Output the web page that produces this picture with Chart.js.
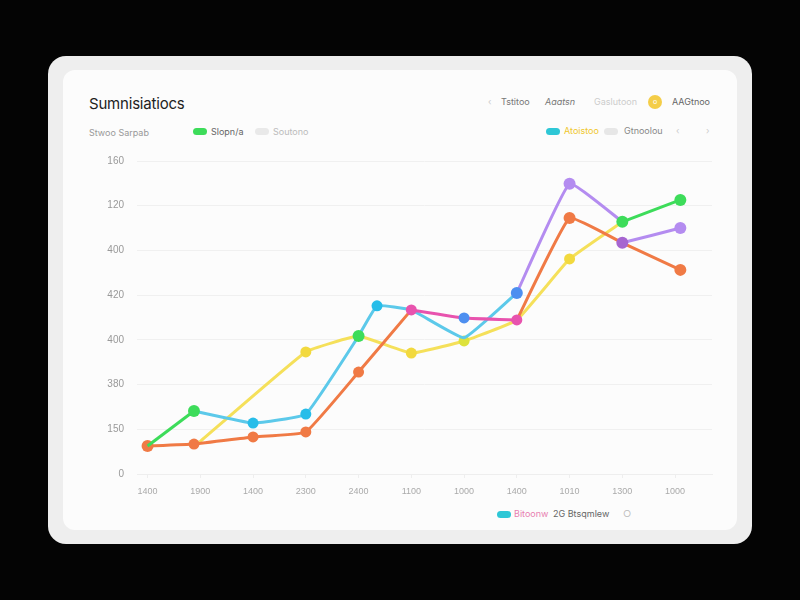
<!DOCTYPE html>
<html>
<head>
<meta charset="utf-8">
<script src="https://cdn.jsdelivr.net/npm/chart.js@4"></script>
<style>
  html, body { margin: 0; padding: 0; background: #040404; width: 800px; height: 600px; overflow: hidden; }
  body { font-family: "Inter", "Liberation Sans", sans-serif; position: relative; }
  .frame { position: absolute; left: 48px; top: 56px; width: 704px; height: 488px; border-radius: 18px; background: #eeeeee; }
  .panel { position: absolute; left: 63px; top: 70px; width: 674px; height: 460px; border-radius: 12px; background: #fcfcfc; }
  .t { position: absolute; white-space: nowrap; font-size: 9px; color: #888; line-height: 12px; }
  .title { left: 89px; top: 95px; font-size: 15px; color: #222; line-height: 18px; letter-spacing: -0.2px; }
  .pill { position: absolute; width: 14px; height: 7px; border-radius: 4px; }
  .dot { position: absolute; width: 14px; height: 14px; border-radius: 7px; background: #f4cd48; color: #fff; font-size: 7px; line-height: 14px; text-align: center; }
  #wrap { position: absolute; left: 62px; top: 142px; width: 676px; height: 368px; }
</style>
</head>
<body>
<div class="frame"></div>
<div class="panel"></div>

<div class="t title">Sumnisiatiocs</div>
<div class="t" style="left:89px; top:127px; color:#999;">Stwoo Sarpab</div>
<div class="pill" style="left:193px; top:128px; background:#3ddc5a;"></div>
<div class="t" style="left:211px; top:126px; color:#666;">Slopn/a</div>
<div class="pill" style="left:255px; top:128px; background:#e9e9e9;"></div>
<div class="t" style="left:273px; top:126px; color:#bbb;">Soutono</div>

<div class="t" style="left:488px; top:96px; color:#ccc;">‹</div>
<div class="t" style="left:501px; top:96px; color:#777;">Tstitoo</div>
<div class="t" style="left:545px; top:96px; color:#777; font-style:italic;">Aaatsn</div>
<div class="t" style="left:594px; top:96px; color:#ccc;">Gaslutoon</div>
<div class="dot" style="left:648px; top:95px;">o</div>
<div class="t" style="left:672px; top:96px; color:#666;">AAGtnoo</div>

<div class="pill" style="left:546px; top:128px; background:#2ec7d6;"></div>
<div class="t" style="left:564px; top:125px; color:#f0c72c;">Atoistoo</div>
<div class="pill" style="left:604px; top:128px; background:#e7e7e7;"></div>
<div class="t" style="left:624px; top:125px; color:#888;">Gtnoolou</div>
<div class="t" style="left:676px; top:125px; color:#ccc;">‹</div>
<div class="t" style="left:706px; top:125px; color:#ccc;">›</div>

<div class="pill" style="left:497px; top:511px; background:#2ec7d6;"></div>
<div class="t" style="left:514px; top:508px; color:#e87fb0;">Bitoonw</div>
<div class="t" style="left:553px; top:508px; color:#666;">2G Btsqmlew</div>
<div class="t" style="left:623px; top:508px; color:#bbb;">○</div>

<div id="wrap"><canvas id="lineChart"></canvas></div>

<script>
// data, x = category index (some points sit slightly off the tick)
const xLabels = ['1400', '1900', '1400', '2300', '2400', '1100', '1000', '1400', '1010', '1300', '1000'];
const yTickLabels = ['0', '150', '380', '400', '420', '400', '120', '160'];

const orangeLow  = [[0, 12.5], [0.88, 13.4], [2, 16.6], [3, 18.8], [4, 45.6], [5, 73.4]];
const pinkMid    = [[5, 73.4], [6, 69.8], [7, 68.9]];
const orangeHigh = [[7, 68.9], [8, 114.5], [9, 103.4], [10.1, 91.3]];
const yellowLine = [[0.97, 14], [3, 54.6], [4, 61.7], [5, 54.1], [6, 59.5], [7, 68.9], [8, 96.2], [9, 112.8]];
const cyanLine   = [[0.88, 28.2], [2, 22.8], [3, 26.8], [4, 61.7], [4.35, 75.2], [5, 73.4], [6, 60.9], [7, 81]];
const greenStart = [[0, 12.5], [0.88, 28.2]];
const greenEnd   = [[9, 112.8], [10.1, 122.6]];
const purplePeak = [[7, 81], [8, 129.8], [9, 112.8]];
const purpleEnd  = [[9, 103.4], [10.1, 110]];

const GREEN = '#3ddc5a', CYAN = '#5cc9ea', CYAN_PT = '#27bde9', BLUE = '#4d8ff0',
      ORANGE = '#f07a45', YELLOW = '#f5e05a', YELLOW_PT = '#f2d93e', PINK = '#e853ae', PURPLE = '#b48cf0';

const pts = arr => arr.map(p => ({ x: p[0], y: p[1] }));

function line(data, color, radius, pointColors) {
  return {
    data: pts(data),
    borderColor: color,
    borderWidth: 3,
    tension: 0.1,
    pointRadius: radius,
    pointBackgroundColor: pointColors || color,
    pointBorderWidth: 0,
    fill: false
  };
}

new Chart(document.getElementById('lineChart'), {
  type: 'line',
  data: {
    datasets: [
      line(greenEnd, GREEN, 6),
      line(purpleEnd, PURPLE, 6, ['#a665d0', PURPLE]),
      line(greenStart, GREEN, [0, 6]),
      line(pinkMid, PINK, 5.5, [PINK, BLUE, PINK]),
      line(cyanLine, CYAN, [0, 5.5, 5.5, 6, 5.5, 0, 0, 6], [CYAN_PT, CYAN_PT, CYAN_PT, GREEN, CYAN_PT, CYAN_PT, CYAN_PT, BLUE]),
      line(orangeLow, ORANGE, [6, 5.5, 5.5, 5.5, 5.5, 0]),
      line(purplePeak, PURPLE, [0, 6, 0]),
      line(orangeHigh, ORANGE, [0, 6, 0, 6]),
      line(yellowLine, YELLOW, [0, 5.5, 0, 5.5, 5.5, 0, 5.5, 0], [YELLOW_PT, YELLOW_PT, YELLOW_PT, YELLOW_PT, '#dde23c', YELLOW_PT, YELLOW_PT, YELLOW_PT])
    ]
  },
  options: {
    responsive: true,
    maintainAspectRatio: false,
    animation: false,
    layout: { padding: { top: 2, right: 26, bottom: 7, left: 0 } },
    plugins: { legend: { display: false }, tooltip: { enabled: false } },
    scales: {
      x: {
        type: 'linear',
        min: -0.2,
        max: 10.7,
        afterBuildTicks: axis => { axis.ticks = xLabels.map((_, i) => ({ value: i })); },
        afterFit: axis => { axis.height = 29; },
        ticks: {
          callback: v => xLabels[v],
          color: '#aaa',
          font: { size: 9 },
          padding: 8,
          maxRotation: 0,
          autoSkip: false
        },
        grid: { drawOnChartArea: false, color: '#eeeeee', tickLength: 4 },
        border: { display: true, color: '#eeeeee' }
      },
      y: {
        min: 0,
        max: 140,
        afterFit: axis => { axis.width = 75; },
        ticks: {
          stepSize: 20,
          callback: (v, i) => yTickLabels[i],
          color: '#999',
          font: { size: 10 },
          padding: 13
        },
        grid: { color: '#f0f0f0', drawTicks: false },
        border: { display: false }
      }
    }
  }
});
</script>
</body>
</html>
